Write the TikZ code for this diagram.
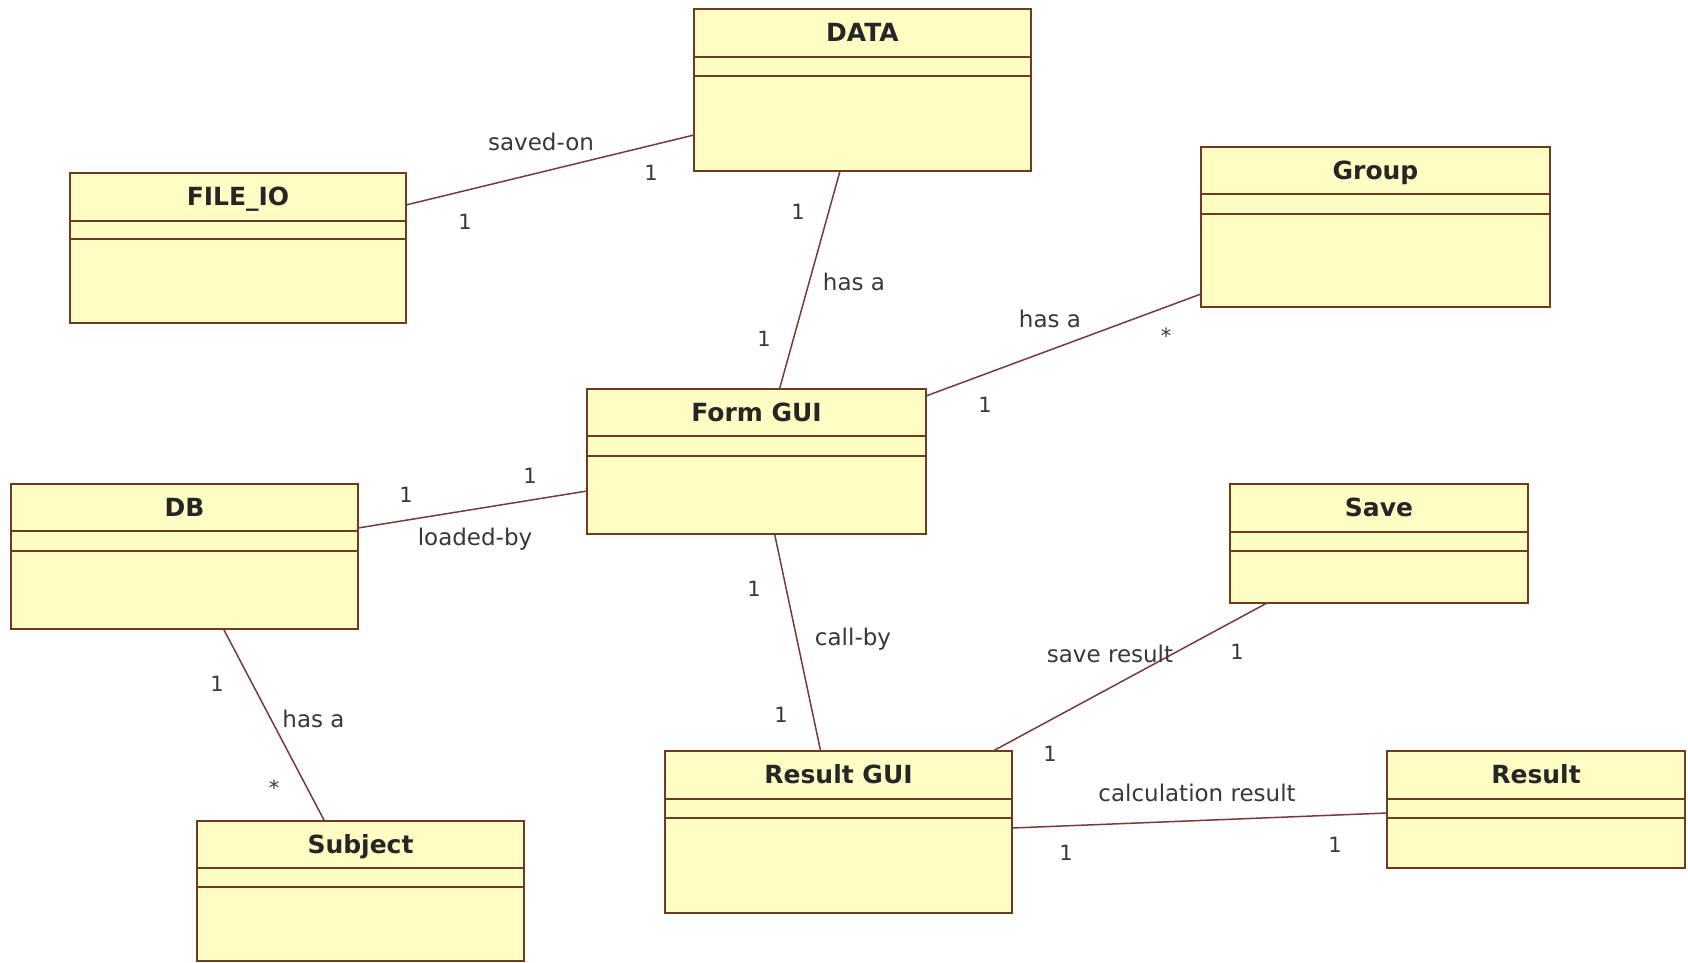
\documentclass[tikz,border=0pt]{standalone}
\usepackage{fontspec}
\setmainfont{DejaVu Sans}
\usetikzlibrary{calc}
\definecolor{boxfill}{HTML}{FFFCC4}
\definecolor{boxdraw}{HTML}{6E3B1E}
\definecolor{linkcol}{HTML}{7A3A3A}
\definecolor{txtcol}{HTML}{383838}
\tikzset{
  clsbox/.style={draw=boxdraw, fill=boxfill, line width=2pt, inner sep=0pt, outer sep=0pt},
  clsline/.style={draw=boxdraw, line width=2pt},
  clstitle/.style={font=\bfseries\fontsize{25}{30}\selectfont, text=black!85, inner sep=0pt, anchor=base},
  assoc/.style={draw=linkcol, line width=1.5pt},
  lbl/.style={font=\fontsize{23}{28}\selectfont, text=txtcol, inner sep=0pt},
  mult/.style={font=\fontsize{21}{26}\selectfont, text=txtcol, inner sep=0pt},
}
\newcommand{\umlclass}[8]{%
  \node[clsbox, anchor=north west, minimum width={#4-#2}, minimum height={#5-#3}] (#1) at (#2,#3) {};
  \draw[clsline] (#2,#6) -- (#4,#6);
  \draw[clsline] (#2,#7) -- (#4,#7);
  \node[clstitle] (#1-title) at ({(#2+#4)/2},{(#3+#6)/2+8.5}) {#8};
}
\begin{document}
\begin{tikzpicture}[x=1pt, y=-1pt]
  \fill[white] (0,0) rectangle (1688,963);
  \useasboundingbox (0,0) rectangle (1688,963);

  \umlclass{data}{694}{9}{1031}{171}{57}{76}{DATA}
  \umlclass{file}{70}{173}{406}{323}{221}{239}{FILE\_IO}
  \umlclass{group}{1201}{147}{1550}{307}{194}{214}{Group}
  \umlclass{form}{587}{389}{926}{534}{436}{456}{Form GUI}
  \umlclass{db}{11}{484}{358}{629}{531}{551}{DB}
  \umlclass{save}{1230}{484}{1528}{603}{532}{551}{Save}
  \umlclass{subject}{197}{821}{524}{961}{868}{887}{Subject}
  \umlclass{rgui}{665}{751}{1012}{913}{799}{818}{Result GUI}
  \umlclass{result}{1387}{751}{1685}{868}{799}{818}{Result}

  % FILE_IO -- DATA
  \draw[assoc] ($(file.north east)+(0,32)$) -- ($(data.north west)+(0,126)$);
  \node[lbl] (l1) at (541,142) {saved-on};
  \node[mult] (m1a) at (651,173) {1};
  \node[mult] (m1b) at (465,222) {1};

  % DATA -- Form GUI
  \draw[assoc] ($(data.south west)+(146,0)$) -- ($(form.north west)+(192.5,0)$);
  \node[mult] (m2a) at (798,212) {1};
  \node[lbl] (l2) at (854,282) {has a};
  \node[mult] (m2b) at (764,339) {1};

  % Form GUI -- Group
  \draw[assoc] ($(form.north east)+(0,7)$) -- ($(group.north west)+(0,147)$);
  \node[lbl] (l3) at (1050,319) {has a};
  \node[mult] (m3a) at (1166,336) {*};
  \node[mult] (m3b) at (985,405) {1};

  % DB -- Form GUI
  \draw[assoc] ($(db.north east)+(0,44)$) -- ($(form.north west)+(0,102)$);
  \node[mult] (m4a) at (406,495) {1};
  \node[mult] (m4b) at (530,476) {1};
  \node[lbl] (l4) at (475,539) {loaded-by};

  % DB -- Subject
  \draw[assoc] ($(db.south west)+(212.5,0)$) -- ($(subject.north west)+(127.5,0)$);
  \node[mult] (m5a) at (217,684) {1};
  \node[lbl] (l5) at (313.5,719) {has a};
  \node[mult] (m5b) at (274,788) {*};

  % Form GUI -- Result GUI
  \draw[assoc] ($(form.south west)+(187.6,0)$) -- ($(rgui.north west)+(155.6,0)$);
  \node[mult] (m6a) at (754,589) {1};
  \node[lbl] (l6) at (853,639) {call-by};
  \node[mult] (m6b) at (781,715) {1};

  % Save -- Result GUI
  \draw[assoc] ($(save.south west)+(37,0)$) -- ($(rgui.north west)+(328,0)$);
  \node[lbl] (l7) at (1110,654) {save result};
  \node[mult] (m7a) at (1237,652) {1};
  \node[mult] (m7b) at (1050,754) {1};

  % Result GUI -- Result
  \draw[assoc] ($(rgui.north east)+(0,77)$) -- ($(result.north west)+(0,62)$);
  \node[lbl] (l8) at (1197,793) {calculation result};
  \node[mult] (m8a) at (1066,853) {1};
  \node[mult] (m8b) at (1335,845) {1};
\end{tikzpicture}
\end{document}
